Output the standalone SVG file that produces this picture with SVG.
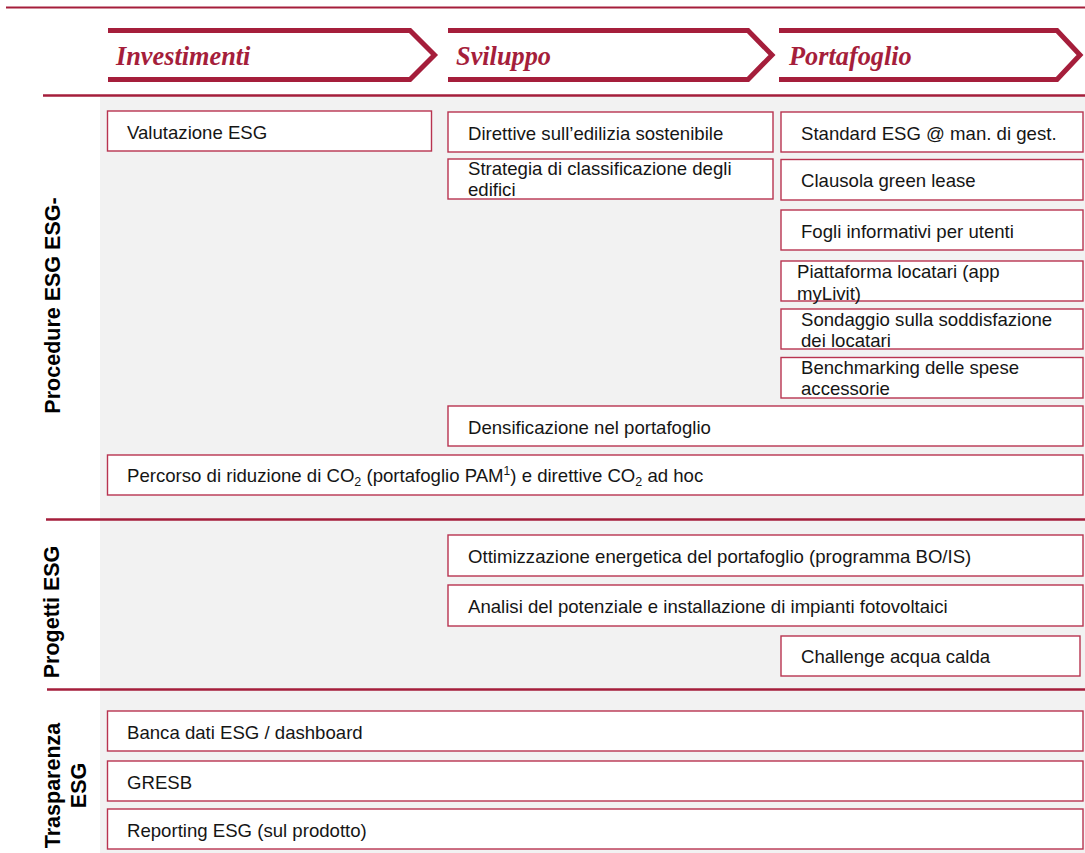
<svg xmlns="http://www.w3.org/2000/svg" width="1085" height="853" viewBox="0 0 1085 853">
<style>
.bg{fill:#f2f2f2}
.sep{stroke:#a51e3b;stroke-width:2.5;fill:none}
.chev{stroke:#a51e3b;stroke-width:5;fill:none;stroke-linejoin:miter}
.hdr{font-family:"Liberation Serif","Times New Roman",serif;font-style:italic;font-weight:bold;font-size:26.3px;fill:#a51e3b}
.box{fill:#ffffff;stroke:#b83450;stroke-width:1.4}
.t{font-family:"Liberation Sans",Arial,sans-serif;font-size:18.6px;fill:#151515}
.lbl{font-family:"Liberation Sans",Arial,sans-serif;font-size:21.5px;font-weight:bold;fill:#000;text-anchor:middle}
</style>
<rect x="0" y="0" width="1085" height="853" fill="#ffffff"/>
<rect class="bg" x="100" y="96" width="985" height="757"/>
<g id="separators">
<line class="sep" x1="6" y1="7.5" x2="1085" y2="7.5" style="stroke-width:2"/>
<line class="sep" x1="43" y1="95.5" x2="1085" y2="95.5"/>
<line class="sep" x1="46" y1="519.5" x2="1085" y2="519.5"/>
<line class="sep" x1="47" y1="689.5" x2="1085" y2="689.5"/>
</g>
<g id="phase-investimenti">
<path class="chev" d="M108,30.5 H410 L434.5,55 L410,79.5 H108"/>
<text class="hdr" x="116" y="65">Investimenti</text>
</g>
<g id="phase-sviluppo">
<path class="chev" d="M448,30.5 H748 L772,55 L748,79.5 H448"/>
<text class="hdr" x="456" y="65">Sviluppo</text>
</g>
<g id="phase-portafoglio">
<path class="chev" d="M779,30.5 H1057 L1080,55 L1057,79.5 H779"/>
<text class="hdr" x="789" y="65">Portafoglio</text>
</g>
<g id="label-procedure">
<text class="lbl" transform="translate(60,305.5) rotate(-90)">Procedure ESG ESG-</text>
</g>
<g id="label-progetti">
<text class="lbl" transform="translate(59,612) rotate(-90)">Progetti ESG</text>
</g>
<g id="label-trasparenza">
<text class="lbl" transform="translate(60,785.5) rotate(-90)"><tspan x="0" y="0">Trasparenza</tspan><tspan x="0" dy="26">ESG</tspan></text>
</g>
<g id="valutazione">
<rect class="box" x="107.5" y="111" width="324" height="40"/>
<text class="t" x="127" y="138.5">Valutazione ESG</text>
</g>
<g id="direttive">
<rect class="box" x="448" y="112" width="325" height="40"/>
<text class="t" x="468" y="139.5">Direttive sull’edilizia sostenibile</text>
</g>
<g id="strategia">
<rect class="box" x="448" y="159" width="325" height="40"/>
<text class="t" x="468" y="175">Strategia di classificazione degli</text>
<text class="t" x="468" y="196">edifici</text>
</g>
<g id="standard">
<rect class="box" x="781" y="112" width="302" height="40"/>
<text class="t" x="801" y="139.5">Standard ESG @ man. di gest.</text>
</g>
<g id="clausola">
<rect class="box" x="781" y="159.5" width="302" height="40.5"/>
<text class="t" x="801" y="187">Clausola green lease</text>
</g>
<g id="fogli">
<rect class="box" x="781" y="210" width="302" height="40"/>
<text class="t" x="801" y="237.5">Fogli informativi per utenti</text>
</g>
<g id="piattaforma">
<rect class="box" x="781" y="261" width="302" height="40"/>
<text class="t" x="797" y="278">Piattaforma locatari (app</text>
<text class="t" x="797" y="299.5">myLivit)</text>
</g>
<g id="sondaggio">
<rect class="box" x="781" y="309" width="302" height="40"/>
<text class="t" x="801" y="326">Sondaggio sulla soddisfazione</text>
<text class="t" x="801" y="347">dei locatari</text>
</g>
<g id="benchmarking">
<rect class="box" x="781" y="357.5" width="302" height="40.5"/>
<text class="t" x="801" y="374">Benchmarking delle spese</text>
<text class="t" x="801" y="395">accessorie</text>
</g>
<g id="densificazione">
<rect class="box" x="448" y="406" width="635" height="40"/>
<text class="t" x="468" y="433.5">Densificazione nel portafoglio</text>
</g>
<g id="percorso">
<rect class="box" x="107.5" y="455" width="975.5" height="40"/>
<text class="t" x="127" y="482">Percorso di riduzione di CO<tspan dy="4" font-size="12.5">2</tspan><tspan dy="-4"> (portafoglio PAM</tspan><tspan dy="-7" font-size="12">1</tspan><tspan dy="7">) e direttive CO</tspan><tspan dy="4" font-size="12.5">2</tspan><tspan dy="-4"> ad hoc</tspan></text>
</g>
<g id="ottimizzazione">
<rect class="box" x="448" y="535" width="635" height="41"/>
<text class="t" x="468" y="562.5">Ottimizzazione energetica del portafoglio (programma BO/IS)</text>
</g>
<g id="analisi">
<rect class="box" x="448" y="585" width="635" height="41"/>
<text class="t" x="468" y="612.5">Analisi del potenziale e installazione di impianti fotovoltaici</text>
</g>
<g id="challenge">
<rect class="box" x="781" y="636" width="299" height="40"/>
<text class="t" x="801" y="663">Challenge acqua calda</text>
</g>
<g id="banca">
<rect class="box" x="107.5" y="711" width="975.5" height="40"/>
<text class="t" x="127" y="738.5">Banca dati ESG / dashboard</text>
</g>
<g id="gresb">
<rect class="box" x="107.5" y="761" width="975.5" height="40"/>
<text class="t" x="127" y="788.5">GRESB</text>
</g>
<g id="reporting">
<rect class="box" x="107.5" y="809" width="975.5" height="40"/>
<text class="t" x="127" y="836.5">Reporting ESG (sul prodotto)</text>
</g>
<g id="connectors"></g>
</svg>
